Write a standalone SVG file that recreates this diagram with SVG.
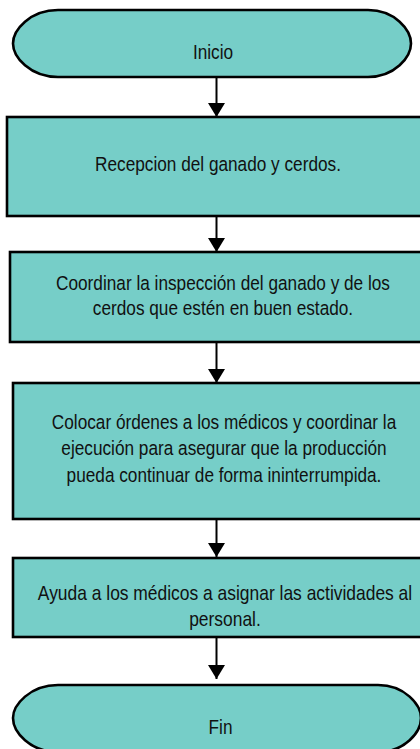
<svg xmlns="http://www.w3.org/2000/svg" width="420" height="749" viewBox="0 0 420 749">
<defs>
<style>
.n{fill:#76CEC8;stroke:#000;stroke-width:2.6}
.t{font-family:"Liberation Sans",Arial,sans-serif;font-size:20.5px;fill:#111;text-anchor:middle}
.c{stroke:#000;stroke-width:2;fill:none}
</style>
<marker id="ah" viewBox="0 0 14 17" refX="14" refY="8.5" markerWidth="14" markerHeight="17" markerUnits="userSpaceOnUse" orient="auto">
<path d="M0,0 L14,8.5 L0,17 Z" fill="#000"/>
</marker>
</defs>
<g id="connectors">
<line class="c" x1="216.5" y1="77" x2="216.5" y2="117" marker-end="url(#ah)"/>
<line class="c" x1="216.5" y1="216" x2="216.5" y2="252" marker-end="url(#ah)"/>
<line class="c" x1="216.5" y1="342" x2="216.5" y2="383" marker-end="url(#ah)"/>
<line class="c" x1="216.5" y1="519" x2="216.5" y2="557" marker-end="url(#ah)"/>
<line class="c" x1="216.5" y1="637" x2="216.5" y2="679" marker-end="url(#ah)"/>
</g>
<g id="inicio">
<path class="n" d="M58,10 H368 C395,10 411,30 411,43.5 C411,57 395,77 368,77 H58 C30,77 13,57 13,43.5 C13,30 30,10 58,10 Z"/>
<text class="t" transform="translate(213 0) scale(0.84 1)" x="0" y="59.5">Inicio</text>
</g>
<g id="recepcion">
<rect class="n" x="7" y="117" width="420" height="99"/>
<text class="t" transform="translate(218 0) scale(0.84 1)" x="0" y="171">Recepcion del ganado y cerdos.</text>
</g>
<g id="coordinar">
<rect class="n" x="10" y="252" width="420" height="90"/>
<text class="t" transform="translate(223 0) scale(0.84 1)" x="0" y="290.5">Coordinar la inspección del ganado y de los</text>
<text class="t" transform="translate(223 0) scale(0.84 1)" x="0" y="315">cerdos que estén en buen estado.</text>
</g>
<g id="colocar">
<rect class="n" x="13" y="383" width="420" height="136"/>
<text class="t" transform="translate(224 0) scale(0.84 1)" x="0" y="429">Colocar órdenes a los médicos y coordinar la</text>
<text class="t" transform="translate(224 0) scale(0.84 1)" x="0" y="455.5">ejecución para asegurar que la producción</text>
<text class="t" transform="translate(224 0) scale(0.84 1)" x="0" y="482">pueda continuar de forma ininterrumpida.</text>
</g>
<g id="ayuda">
<rect class="n" x="13" y="558" width="420" height="79"/>
<text class="t" transform="translate(225 0) scale(0.85 1)" x="0" y="600">Ayuda a los médicos a asignar las actividades al</text>
<text class="t" transform="translate(225 0) scale(0.85 1)" x="0" y="626">personal.</text>
</g>
<g id="fin">
<path class="n" d="M58,685 H378 C405,685 421,705 421,718 C421,732 405,752 378,752 H58 C30,752 13,732 13,718 C13,705 30,685 58,685 Z"/>
<text class="t" transform="translate(220.5 0) scale(0.84 1)" x="0" y="734">Fin</text>
</g>
</svg>
